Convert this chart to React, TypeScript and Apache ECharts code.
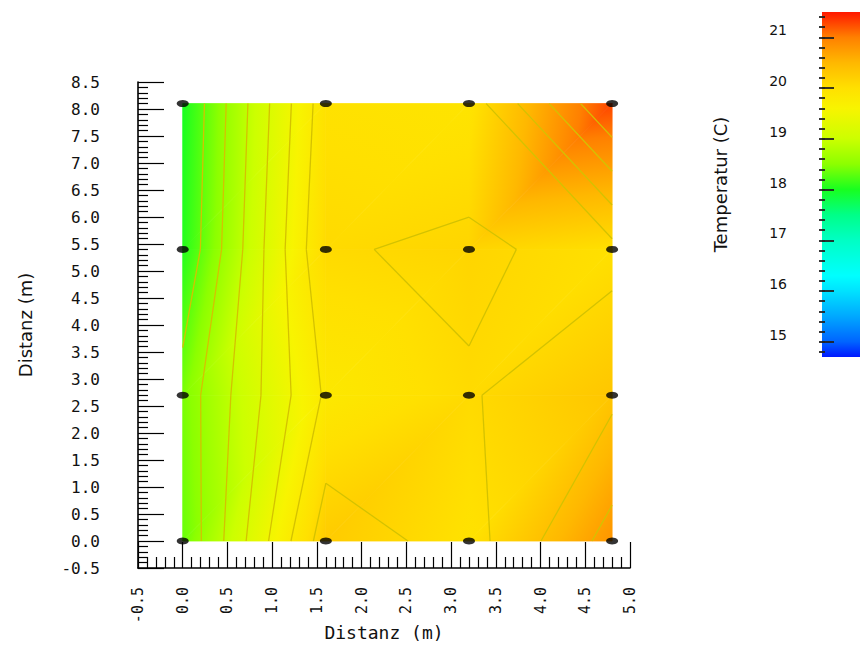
import React, { useEffect, useRef } from "react";
import * as echarts from "echarts";

// measurement positions (m)
const xPositions = [0, 1.6, 3.2, 4.8];
const yPositions = [0, 2.7, 5.4, 8.1];

// temperature (C) per row, from y = 0 up to y = 8.1, columns follow xPositions
const tempRowY0 = [18.35, 20.26, 19.97, 20.81];
const tempRowY27 = [18.42, 19.84, 20.07, 20.33];
const tempRowY54 = [18.05, 20.07, 20.14, 20.0];
const tempRowY81 = [18.0, 19.97, 19.93, 21.29];
const temperatureRows = [tempRowY0, tempRowY27, tempRowY54, tempRowY81];

// colour scale
const scaleMin = 14.7;
const scaleMax = 21.5;
const scaleLabels = [15, 16, 17, 18, 19, 20, 21];
const scaleValues = [14.7, 15.0, 15.5, 16.0, 16.3, 17.0, 17.5, 18.0, 18.5, 19.0, 19.6, 20.0, 20.5, 21.0, 21.5];
const scaleColors = [
  "#0018ff", "#0064ff", "#00a8ff", "#00e2ff", "#00ffff", "#00ffc4", "#00ff88", "#18ff20",
  "#8cff00", "#ccff00", "#f8f400", "#ffe000", "#ffb800", "#ff8000", "#ff1800",
];
const contourCount = 10;

function hexToRgb(h: string) {
  return [parseInt(h.slice(1, 3), 16), parseInt(h.slice(3, 5), 16), parseInt(h.slice(5, 7), 16)];
}
function colorAt(v: number) {
  const n = scaleValues.length;
  if (v <= scaleValues[0]) return scaleColors[0];
  if (v >= scaleValues[n - 1]) return scaleColors[n - 1];
  for (let i = 0; i < n - 1; i++) {
    if (v >= scaleValues[i] && v <= scaleValues[i + 1]) {
      const t = (v - scaleValues[i]) / (scaleValues[i + 1] - scaleValues[i]);
      const a = hexToRgb(scaleColors[i]);
      const b = hexToRgb(scaleColors[i + 1]);
      const c = a.map((x, k) => Math.round(x + (b[k] - x) * t));
      return `rgb(${c[0]},${c[1]},${c[2]})`;
    }
  }
  return scaleColors[n - 1];
}

// grid cells and their triangles (SW-NE diagonal), built from the named arrays
const P = (ii: number, jj: number) => [xPositions[ii], yPositions[jj], temperatureRows[jj][ii]];
const triangles: number[][] = [];
const cells: number[][] = [];
for (let j = 0; j < yPositions.length - 1; j++) {
  for (let i = 0; i < xPositions.length - 1; i++) {
    const bl = P(i, j), br = P(i + 1, j), tl = P(i, j + 1), tr = P(i + 1, j + 1);
    triangles.push([...bl, ...br, ...tr]);
    triangles.push([...bl, ...tr, ...tl]);
    cells.push([bl[0], bl[1], tr[0], tr[1], bl[2], br[2], tr[2], tl[2]]);
  }
}
const allValues = temperatureRows.flat();
const dataMin = Math.min(...allValues);
const dataMax = Math.max(...allValues);
const contourLevels: number[] = [];
for (let k = 1; k <= contourCount; k++) contourLevels.push(dataMin + (k * (dataMax - dataMin)) / (contourCount + 1));

const stationPoints: number[][] = [];
yPositions.forEach((y) => xPositions.forEach((x) => stationPoints.push([x, y])));

const minorScaleTicks: number[] = [];
for (let k = 74; k <= 107; k++) minorScaleTicks.push(Math.round(k * 2) / 10);

function renderSurface(_params: any, api: any) {
  const pts = [0, 1, 2].map((k) => api.coord([api.value(3 * k), api.value(3 * k + 1)]));
  const vals = [0, 1, 2].map((k) => api.value(3 * k + 2) as number);
  const [p1, p2, p3] = pts;
  const [v1, v2, v3] = vals;
  const ax = p2[0] - p1[0], ay = p2[1] - p1[1], bx = p3[0] - p1[0], by = p3[1] - p1[1];
  const d1 = v2 - v1, d2 = v3 - v1;
  const det = ax * by - ay * bx;
  const gx = (d1 * by - ay * d2) / det;
  const gy = (ax * d2 - bx * d1) / det;
  const g2 = gx * gx + gy * gy;
  const lo = Math.min(v1, v2, v3), hi = Math.max(v1, v2, v3);
  const makeFill = () => {
    if (g2 < 1e-14 || hi - lo < 1e-6) return colorAt(v1);
    const sx = p1[0] + (gx * (lo - v1)) / g2, sy = p1[1] + (gy * (lo - v1)) / g2;
    const ex = p1[0] + (gx * (hi - v1)) / g2, ey = p1[1] + (gy * (hi - v1)) / g2;
    const stopsV = [lo, ...scaleValues.filter((s) => s > lo && s < hi), hi];
    const stops = stopsV.map((v) => ({ offset: (v - lo) / (hi - lo), color: colorAt(v) }));
    return new echarts.graphic.LinearGradient(sx, sy, ex, ey, stops, true);
  };
  return {
    type: "polygon",
    shape: { points: pts },
    style: { fill: makeFill(), stroke: makeFill(), lineWidth: 0.8 },
  };
}

// marching squares: straight segments between edge crossings of each cell
function renderContours(_params: any, api: any) {
  const a = api.coord([api.value(0), api.value(1)]);
  const b = api.coord([api.value(2), api.value(3)]);
  const corners = [
    [a[0], a[1]], // BL
    [b[0], a[1]], // BR
    [b[0], b[1]], // TR
    [a[0], b[1]], // TL
  ];
  const vals = [api.value(4), api.value(5), api.value(6), api.value(7)] as number[];
  const edges = [[0, 1], [1, 2], [2, 3], [3, 0]];
  const cornerEdges = [[0, 3], [0, 1], [1, 2], [2, 3]];
  const children: any[] = [];
  const seg = (p: number[], q: number[]) =>
    children.push({
      type: "line",
      shape: { x1: p[0], y1: p[1], x2: q[0], y2: q[1] },
      style: { stroke: "#d4c200", lineWidth: 1.3 },
    });
  contourLevels.forEach((L) => {
    const cross: (number[] | null)[] = edges.map(([i, k]) => {
      const vi = vals[i], vk = vals[k];
      if ((vi - L) * (vk - L) < 0) {
        const t = (L - vi) / (vk - vi);
        return [corners[i][0] + t * (corners[k][0] - corners[i][0]), corners[i][1] + t * (corners[k][1] - corners[i][1])];
      }
      return null;
    });
    const found = cross.filter((c) => c) as number[][];
    if (found.length === 2) seg(found[0], found[1]);
    else if (found.length === 4) {
      vals.forEach((v, ci) => {
        if (v > L) {
          const [e1, e2] = cornerEdges[ci];
          seg(cross[e1] as number[], cross[e2] as number[]);
        }
      });
    }
  });
  return { type: "group", children };
}

function renderScaleBar(_params: any, api: any) {
  const a = api.coord([0, scaleMin]);
  const b = api.coord([1, scaleMax]);
  const stops = scaleValues.map((v, i) => ({
    offset: (v - scaleMin) / (scaleMax - scaleMin),
    color: scaleColors[i],
  }));
  return {
    type: "rect",
    shape: { x: a[0], y: b[1], width: b[0] - a[0], height: a[1] - b[1] },
    style: { fill: new echarts.graphic.LinearGradient(0, 1, 0, 0, stops) },
  };
}

const tickFont = { fontFamily: "DejaVu Sans Mono", color: "#111" };

const option: any = {
  animation: false,
  backgroundColor: "#ffffff",
  grid: [
    { left: 138, top: 82, width: 492, height: 486, outerBoundsMode: "none", containLabel: false },
    { left: 822, top: 12, width: 38, height: 345, outerBoundsMode: "none", containLabel: false },
  ],
  xAxis: [
    {
      gridIndex: 0,
      type: "value",
      min: -0.5,
      max: 5.0,
      interval: 0.5,
      name: "Distanz (m)",
      nameLocation: "middle",
      nameGap: 55,
      nameMoveOverlap: false,
      nameTextStyle: { fontFamily: "DejaVu Sans Mono", fontSize: 18, color: "#111" },
      axisLine: { onZero: false, lineStyle: { color: "#000", width: 1.6 } },
      axisTick: { inside: true, length: 26, lineStyle: { color: "#000", width: 1.2 } },
      minorTick: { show: true, splitNumber: 5, length: 11, lineStyle: { color: "#000", width: 1.2 } },
      splitLine: { show: false },
      axisLabel: { rotate: 90, margin: 19, fontSize: 15, ...tickFont, formatter: (v: number) => v.toFixed(1) },
    },
    { gridIndex: 1, type: "value", min: 0, max: 1, show: false },
  ],
  yAxis: [
    {
      gridIndex: 0,
      type: "value",
      min: -0.5,
      max: 8.5,
      interval: 0.5,
      name: "Distanz (m)",
      nameLocation: "middle",
      nameGap: 104,
      nameMoveOverlap: false,
      nameTextStyle: { fontFamily: "DejaVu Sans", fontSize: 18, color: "#111" },
      axisLine: { onZero: false, lineStyle: { color: "#000", width: 1.6 } },
      axisTick: { inside: true, length: 26, lineStyle: { color: "#000", width: 1.2 } },
      minorTick: { show: true, splitNumber: 5, length: 10, lineStyle: { color: "#000", width: 1.2 } },
      splitLine: { show: false },
      axisLabel: { margin: 38, fontSize: 16, ...tickFont, formatter: (v: number) => v.toFixed(1) },
    },
    {
      gridIndex: 1,
      type: "value",
      position: "left",
      min: scaleMin,
      max: scaleMax,
      offset: 3,
      z: 10,
      name: "Temperatur (C)",
      nameLocation: "middle",
      nameGap: 90,
      nameMoveOverlap: false,
      nameTextStyle: { fontFamily: "DejaVu Sans", fontSize: 18, color: "#111" },
      axisLine: { show: false },
      axisTick: { show: true, inside: true, length: 12, customValues: scaleLabels, lineStyle: { color: "#222", width: 1.8 } },
      splitLine: { show: false },
      axisLabel: {
        customValues: scaleLabels,
        margin: 32,
        fontSize: 14,
        fontFamily: "DejaVu Sans",
        color: "#111",
        verticalAlign: "bottom",
      },
    },
    {
      gridIndex: 1,
      type: "value",
      position: "left",
      min: scaleMin,
      max: scaleMax,
      offset: 3,
      z: 10,
      axisLine: { show: false },
      axisTick: { show: true, inside: true, length: 6, customValues: minorScaleTicks, lineStyle: { color: "#222", width: 1.8 } },
      axisLabel: { show: false },
      splitLine: { show: false },
    },
  ],
  series: [
    {
      type: "custom",
      xAxisIndex: 0,
      yAxisIndex: 0,
      renderItem: renderSurface,
      data: triangles,
      encode: { x: [0, 3, 6], y: [1, 4, 7] },
      z: 1,
      silent: true,
    },
    {
      type: "custom",
      xAxisIndex: 0,
      yAxisIndex: 0,
      renderItem: renderContours,
      data: cells,
      encode: { x: [0, 2], y: [1, 3] },
      z: 2,
      silent: true,
    },
    {
      type: "scatter",
      xAxisIndex: 0,
      yAxisIndex: 0,
      data: stationPoints,
      symbol: "circle",
      symbolSize: [12, 7],
      itemStyle: { color: "#000" },
      z: 3,
      silent: true,
    },
    {
      type: "custom",
      xAxisIndex: 1,
      yAxisIndex: 1,
      renderItem: renderScaleBar,
      data: [[0, scaleMin]],
      z: 0,
      silent: true,
    },
  ],
};

export default function App() {
  const ref = useRef<HTMLDivElement>(null);
  useEffect(() => {
    const chart = echarts.init(ref.current!, null, { renderer: "svg" });
    chart.setOption(option);
    return () => chart.dispose();
  }, []);
  return <div ref={ref} style={{ position: "absolute", left: 0, top: 0, width: 860, height: 646, background: "#fff" }} />;
}
